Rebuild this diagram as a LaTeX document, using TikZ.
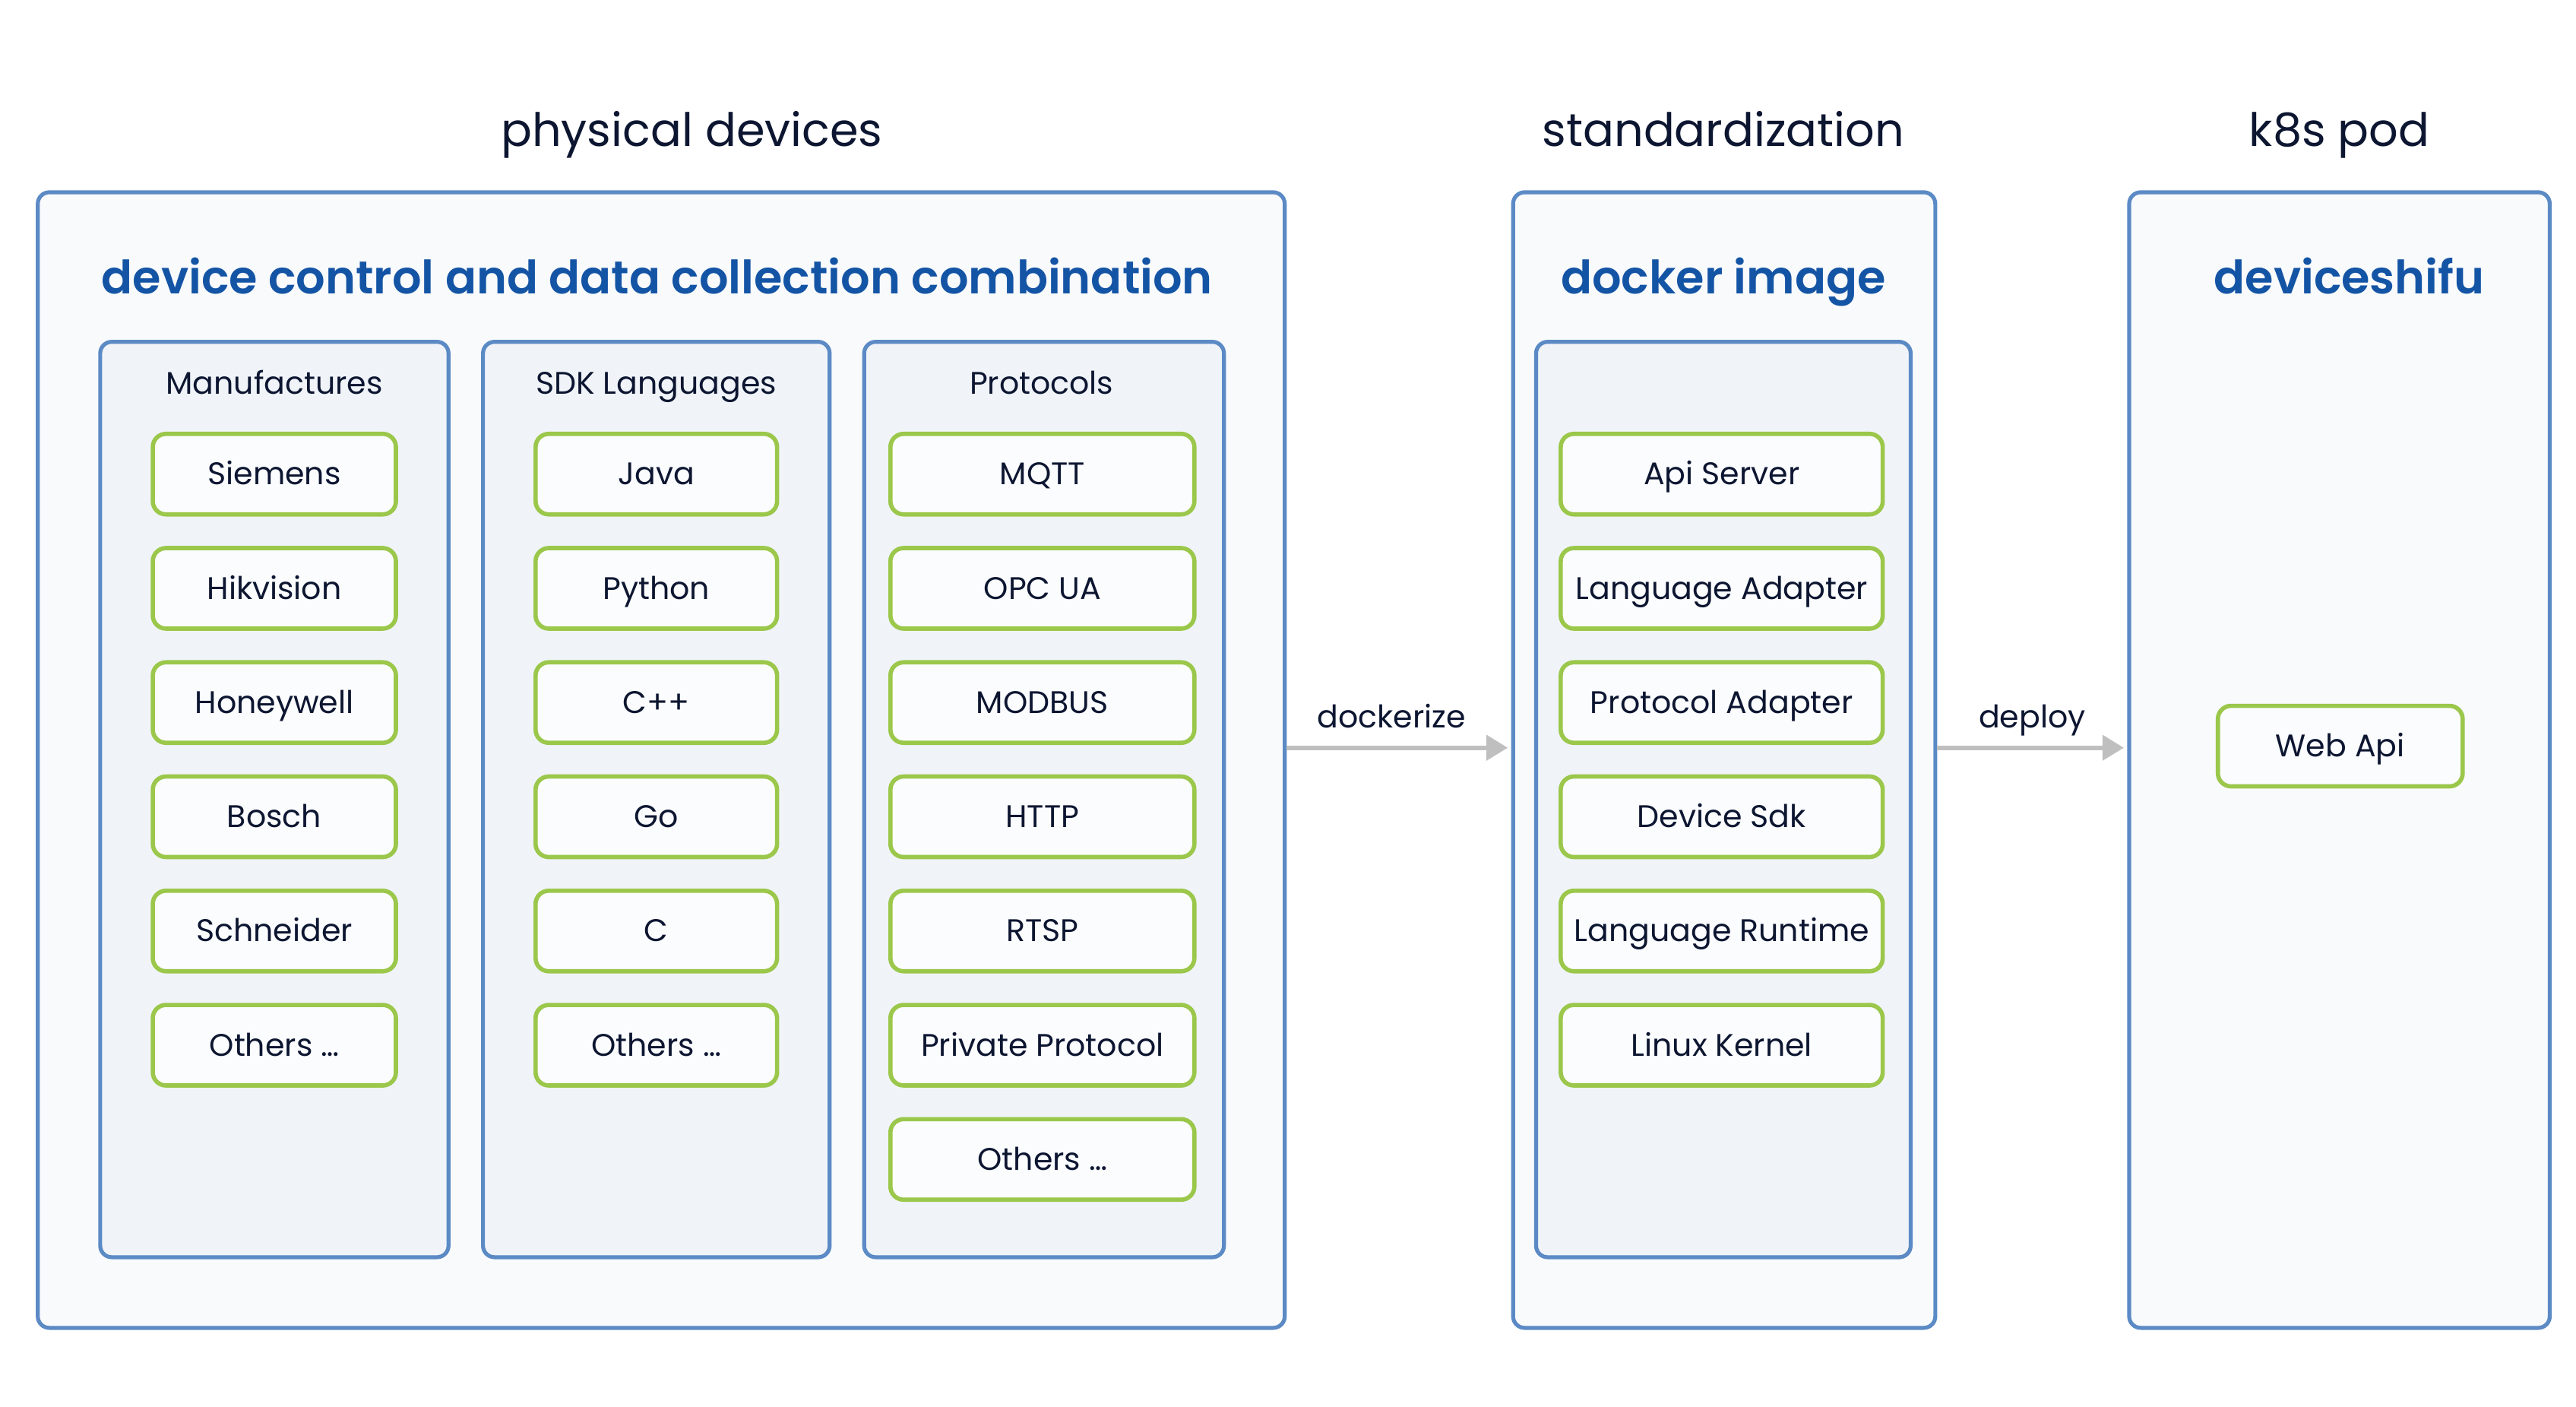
\documentclass[tikz,border=0pt]{standalone}
\usepackage{fontspec}
\setmainfont{Poppins}
\newfontfamily\semib{Poppins}[UprightFont=* SemiBold]
\usetikzlibrary{arrows.meta}
\definecolor{bordblue}{HTML}{5B8AC5}
\definecolor{titleblue}{HTML}{1454A5}
\definecolor{ink}{HTML}{0D1631}
\definecolor{leaf}{HTML}{9BC74B}
\definecolor{outerfill}{HTML}{F8FAFC}
\definecolor{innerfill}{HTML}{F0F4F9}
\definecolor{itemfill}{HTML}{FBFCFE}
\definecolor{arrowgray}{HTML}{BFBFBF}
\begin{document}
\begin{tikzpicture}[x=1pt,y=-1pt,
  outerbox/.style={draw=bordblue,fill=outerfill,line width=2.4pt,rounded corners=7pt,inner sep=0pt},
  innerbox/.style={draw=bordblue,fill=innerfill,line width=2.4pt,rounded corners=7pt,inner sep=0pt},
  itembox/.style={draw=leaf,fill=itemfill,line width=2.6pt,rounded corners=8pt,inner sep=0pt,
    minimum height=49pt,text height=14pt,text depth=1pt,text=ink,font=\fontsize{19}{22}\selectfont},
  heading/.style={text=ink,font=\fontsize{28}{32}\selectfont,inner sep=0pt,anchor=base},
  subtitle/.style={text=titleblue,font=\fontsize{28}{32}\selectfont\semib,inner sep=0pt,anchor=base},
  colhead/.style={text=ink,font=\fontsize{19}{22}\selectfont,inner sep=0pt,anchor=base},
  arrlabel/.style={text=ink,font=\fontsize{19}{22}\selectfont,inner sep=0pt,anchor=base},
  flow/.style={draw=arrowgray,line width=2.8pt,-{Triangle[length=13pt,width=15pt]}}
]
\useasboundingbox (0,0) rectangle (1568,856);

% ---------- physical devices ----------
\node[heading] (hpd) at (421,89) {physical devices};
\node[outerbox,minimum width=759pt,minimum height=691pt] (pd) at (402.5,462.5) {};
\node[subtitle] (spd) at (400,179) {device control and data collection combination};

\node[innerbox,minimum width=212pt,minimum height=557pt] (man) at (167,486.5) {};
\node[innerbox,minimum width=211pt,minimum height=557pt] (sdk) at (399.5,486.5) {};
\node[innerbox,minimum width=219pt,minimum height=557pt] (pro) at (635.5,486.5) {};
\node[colhead] (hman) at (167,240) {Manufactures};
\node[colhead] (hsdk) at (399.5,240) {SDK Languages};
\node[colhead] (hpro) at (634,240) {Protocols};

\foreach \t [count=\i] in {Siemens,Hikvision,Honeywell,Bosch,Schneider,Others …}
  \node[itembox,minimum width=148pt] (m\i) at (167,{288.5+69.5*(\i-1)}) {\t};
\foreach \t [count=\i] in {Java,Python,C++,Go,C,Others …}
  \node[itembox,minimum width=147pt] (s\i) at (399.5,{288.5+69.5*(\i-1)}) {\t};
\foreach \t [count=\i] in {MQTT,OPC UA,MODBUS,HTTP,RTSP,Private Protocol,Others …}
  \node[itembox,minimum width=185pt] (p\i) at (634.5,{288.5+69.5*(\i-1)}) {\t};

% ---------- standardization ----------
\node[heading] (hst) at (1049,89) {standardization};
\node[outerbox,minimum width=257pt,minimum height=691pt] (di) at (1049.5,462.5) {};
\node[subtitle] (sdi) at (1049,179) {docker image};
\node[innerbox,minimum width=228pt,minimum height=557pt] (dii) at (1049,486.5) {};
\foreach \t [count=\i] in {Api Server,Language Adapter,Protocol Adapter,Device Sdk,Language Runtime,Linux Kernel}
  \node[itembox,minimum width=196pt] (d\i) at (1048,{288.5+69.5*(\i-1)}) {\t};

% ---------- k8s pod ----------
\node[heading] (hk8) at (1424,89) {k8s pod};
\node[outerbox,minimum width=256pt,minimum height=691pt] (pod) at (1424,462.5) {};
\node[subtitle] (spod) at (1430,179) {deviceshifu};
\node[itembox,minimum width=149pt] (web) at (1424.5,454) {Web Api};

% ---------- connectors ----------
\draw[flow,shorten >=2pt] ([yshift=7.5pt]pd.east) -- ([yshift=7.5pt]di.west);
\node[arrlabel] (ldock) at (847,443) {dockerize};
\draw[flow,shorten >=2pt] ([yshift=7.5pt]di.east) -- ([yshift=7.5pt]pod.west);
\node[arrlabel] (ldep) at (1237,443) {deploy};
\end{tikzpicture}
\end{document}
